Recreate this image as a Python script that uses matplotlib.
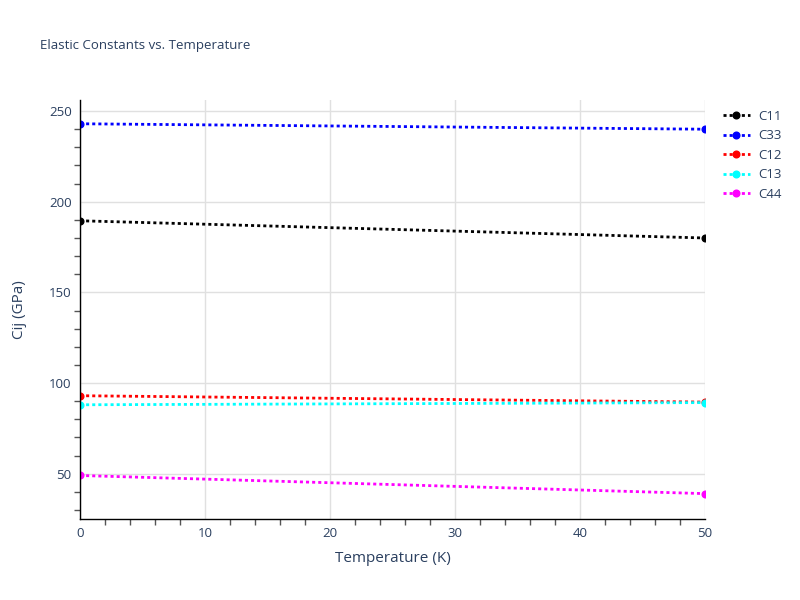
import matplotlib

matplotlib.use("Agg")
import matplotlib.pyplot as plt
from matplotlib.ticker import MultipleLocator

# Data
temperature = [0, 50]
c11 = [189.5, 180.0]
c33 = [243.0, 240.0]
c12 = [93.0, 89.5]
c13 = [88.0, 89.2]
c44 = [49.0, 39.0]

series = [
    ("C11", c11, "black"),
    ("C33", c33, "blue"),
    ("C12", c12, "red"),
    ("C13", c13, "cyan"),
    ("C44", c44, "magenta"),
]

TEXT = "#2a3f5f"
plt.rcParams["font.family"] = ["Open Sans", "DejaVu Sans"]

fig = plt.figure(figsize=(8, 6), dpi=100)
ax = fig.add_axes([0.1, 0.135, 0.781, 0.698])

for name, vals, col in series:
    ax.plot(temperature, vals, color=col, lw=2, ls=(0, (1.1, 1.1)),
            marker="o", ms=4.8, label=name)

ax.set_xlim(0, 50)
ax.set_ylim(25, 256)
ax.xaxis.set_major_locator(MultipleLocator(10))
ax.xaxis.set_minor_locator(MultipleLocator(2))
ax.yaxis.set_major_locator(MultipleLocator(50))
ax.yaxis.set_minor_locator(MultipleLocator(10))

ax.grid(True, which="major", color="#e0e0e0", lw=1)
ax.set_axisbelow(True)
for s in ("top", "right"):
    ax.spines[s].set_visible(False)
for s in ("left", "bottom"):
    ax.spines[s].set_color("black")
    ax.spines[s].set_linewidth(1)

ax.tick_params(which="both", direction="out", color="#555555", labelcolor=TEXT,
               labelsize=9.5, width=1)
ax.tick_params(which="major", length=0, pad=6)
ax.tick_params(which="minor", length=4)

ax.set_xlabel("Temperature (K)", color=TEXT, fontsize=11, labelpad=8)
ax.set_ylabel("Cij (GPa)", color=TEXT, fontsize=11, labelpad=16)

fig.text(0.05, 0.925, "Elastic Constants vs. Temperature", color=TEXT,
         fontsize=9.5, ha="left", va="center")

leg = ax.legend(loc="upper left", bbox_to_anchor=(1.02, 0.99), frameon=False,
                fontsize=9.5, handlelength=2.1, handletextpad=0.6,
                labelspacing=0.5, borderaxespad=0)
for t in leg.get_texts():
    t.set_color(TEXT)

fig.savefig("out.png", dpi=100)
